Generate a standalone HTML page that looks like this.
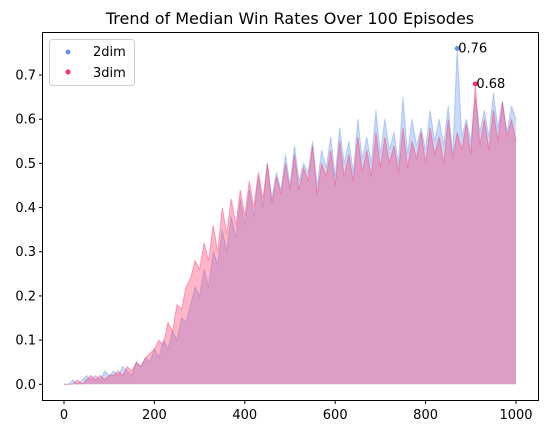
<!DOCTYPE html>
<html><head><meta charset="utf-8"><style>
body{margin:0;background:#fff;font-family:"Liberation Sans","DejaVu Sans",sans-serif}
svg text{font-family:"DejaVu Sans","Liberation Sans",sans-serif}
</style></head><body>
<svg id="chart" width="547" height="435" xmlns="http://www.w3.org/2000/svg">
<text x="290" y="24" font-size="16" text-anchor="middle">Trend of Median Win Rates Over 100 Episodes</text>
<g id="plot"></g>
<rect x="42.5" y="32.5" width="496" height="368" fill="none" stroke="#000" stroke-width="1"/>
<g id="axes"></g>
<g>
<rect x="49.5" y="39.5" width="85" height="46" rx="3" fill="#fff" fill-opacity="0.8" stroke="#ccc"/>
<circle cx="68" cy="52" r="2.5" fill="#6495ED"/>
<text x="93" y="56" font-size="13">2dim</text>
<circle cx="68" cy="72" r="2.5" fill="#FF2E63"/>
<text x="93" y="77" font-size="13">3dim</text>
</g>
</svg>
<script>
const episodes = Array.from({length:101},(_,i)=>i*10);
const dim2 = [0,0,0.01,0,0.01,0.02,0.01,0.02,0.01,0.03,0.02,
0.03,0.02,0.04,0.03,0.02,0.05,0.04,0.06,0.05,0.08,
0.06,0.1,0.08,0.12,0.1,0.15,0.14,0.18,0.22,0.2,
0.26,0.22,0.3,0.27,0.35,0.3,0.38,0.33,0.42,0.36,
0.44,0.38,0.47,0.4,0.5,0.42,0.48,0.44,0.52,0.45,
0.54,0.46,0.5,0.48,0.55,0.45,0.53,0.49,0.56,0.47,
0.58,0.5,0.55,0.48,0.6,0.51,0.56,0.5,0.62,0.52,
0.6,0.53,0.57,0.5,0.65,0.52,0.6,0.54,0.58,0.53,
0.62,0.55,0.6,0.54,0.63,0.52,0.76,0.56,0.6,0.55,
0.65,0.57,0.62,0.56,0.66,0.58,0.64,0.57,0.63,0.6];
const dim3 = [0,0,0,0.01,0,0.01,0.02,0.01,0.02,0.01,0.02,
0.02,0.03,0.02,0.04,0.03,0.05,0.04,0.06,0.07,0.08,
0.1,0.09,0.14,0.12,0.18,0.17,0.22,0.24,0.28,0.26,
0.32,0.28,0.36,0.3,0.4,0.34,0.42,0.36,0.44,0.38,
0.46,0.4,0.48,0.42,0.5,0.41,0.47,0.43,0.5,0.44,
0.52,0.44,0.49,0.46,0.54,0.43,0.5,0.47,0.53,0.45,
0.55,0.47,0.52,0.46,0.56,0.48,0.53,0.47,0.57,0.49,
0.56,0.5,0.54,0.48,0.58,0.49,0.55,0.51,0.57,0.5,
0.58,0.52,0.56,0.5,0.6,0.51,0.57,0.53,0.59,0.52,
0.68,0.54,0.6,0.53,0.62,0.55,0.64,0.56,0.6,0.55];
const xTicks = [0,200,400,600,800,1000];
const yTicks = [0,0.1,0.2,0.3,0.4,0.5,0.6,0.7];

const NS="http://www.w3.org/2000/svg";
const X=v=>64+v*(516-64)/1000;
const Y=v=>384.3-v*(384.3-75)/0.7;
const plot=document.getElementById('plot'), axes=document.getElementById('axes');
function mk(tag,attrs,parent){const e=document.createElementNS(NS,tag);for(const k in attrs)e.setAttribute(k,attrs[k]);parent.appendChild(e);return e;}

function series(vals,color,name){
  let pts=vals.map((v,i)=>X(episodes[i]).toFixed(1)+','+Y(v).toFixed(1)).join(' ');
  const area=mk('polygon',{points:X(0)+','+Y(0)+' '+pts+' '+X(1000)+','+Y(0),fill:color,'fill-opacity':0.35},plot);
  
  
  const line=mk('polyline',{points:pts,fill:'none',stroke:color,'stroke-opacity':0.4,'stroke-width':1},plot);
  
  
  let mi=0;vals.forEach((v,i)=>{if(v>vals[mi])mi=i;});
  const c=mk('circle',{cx:X(episodes[mi]),cy:Y(vals[mi]),r:2.5,fill:color},plot);
  
  
  const t=mk('text',{x:X(episodes[mi])+1,y:Y(vals[mi])+4,'font-size':13},plot);
  t.textContent=vals[mi].toFixed(2);
  
  
}
series(dim2,'#6495ED','2dim');
series(dim3,'#FF2E63','3dim');

xTicks.forEach(v=>{
  const l=mk('line',{x1:X(v),x2:X(v),y1:400.5,y2:404,stroke:'#000'},axes);
  
  
  const t=mk('text',{x:X(v),y:419,'font-size':13,'text-anchor':'middle'},axes);
  t.textContent=v;
  
  
});
yTicks.forEach(v=>{
  const l=mk('line',{x1:39,x2:42.5,y1:Y(v),y2:Y(v),stroke:'#000'},axes);
  
  
  const t=mk('text',{x:36,y:Y(v)+4.5,'font-size':13,'text-anchor':'end'},axes);
  t.textContent=v.toFixed(1);
  
  
});
</script>
</body></html>
